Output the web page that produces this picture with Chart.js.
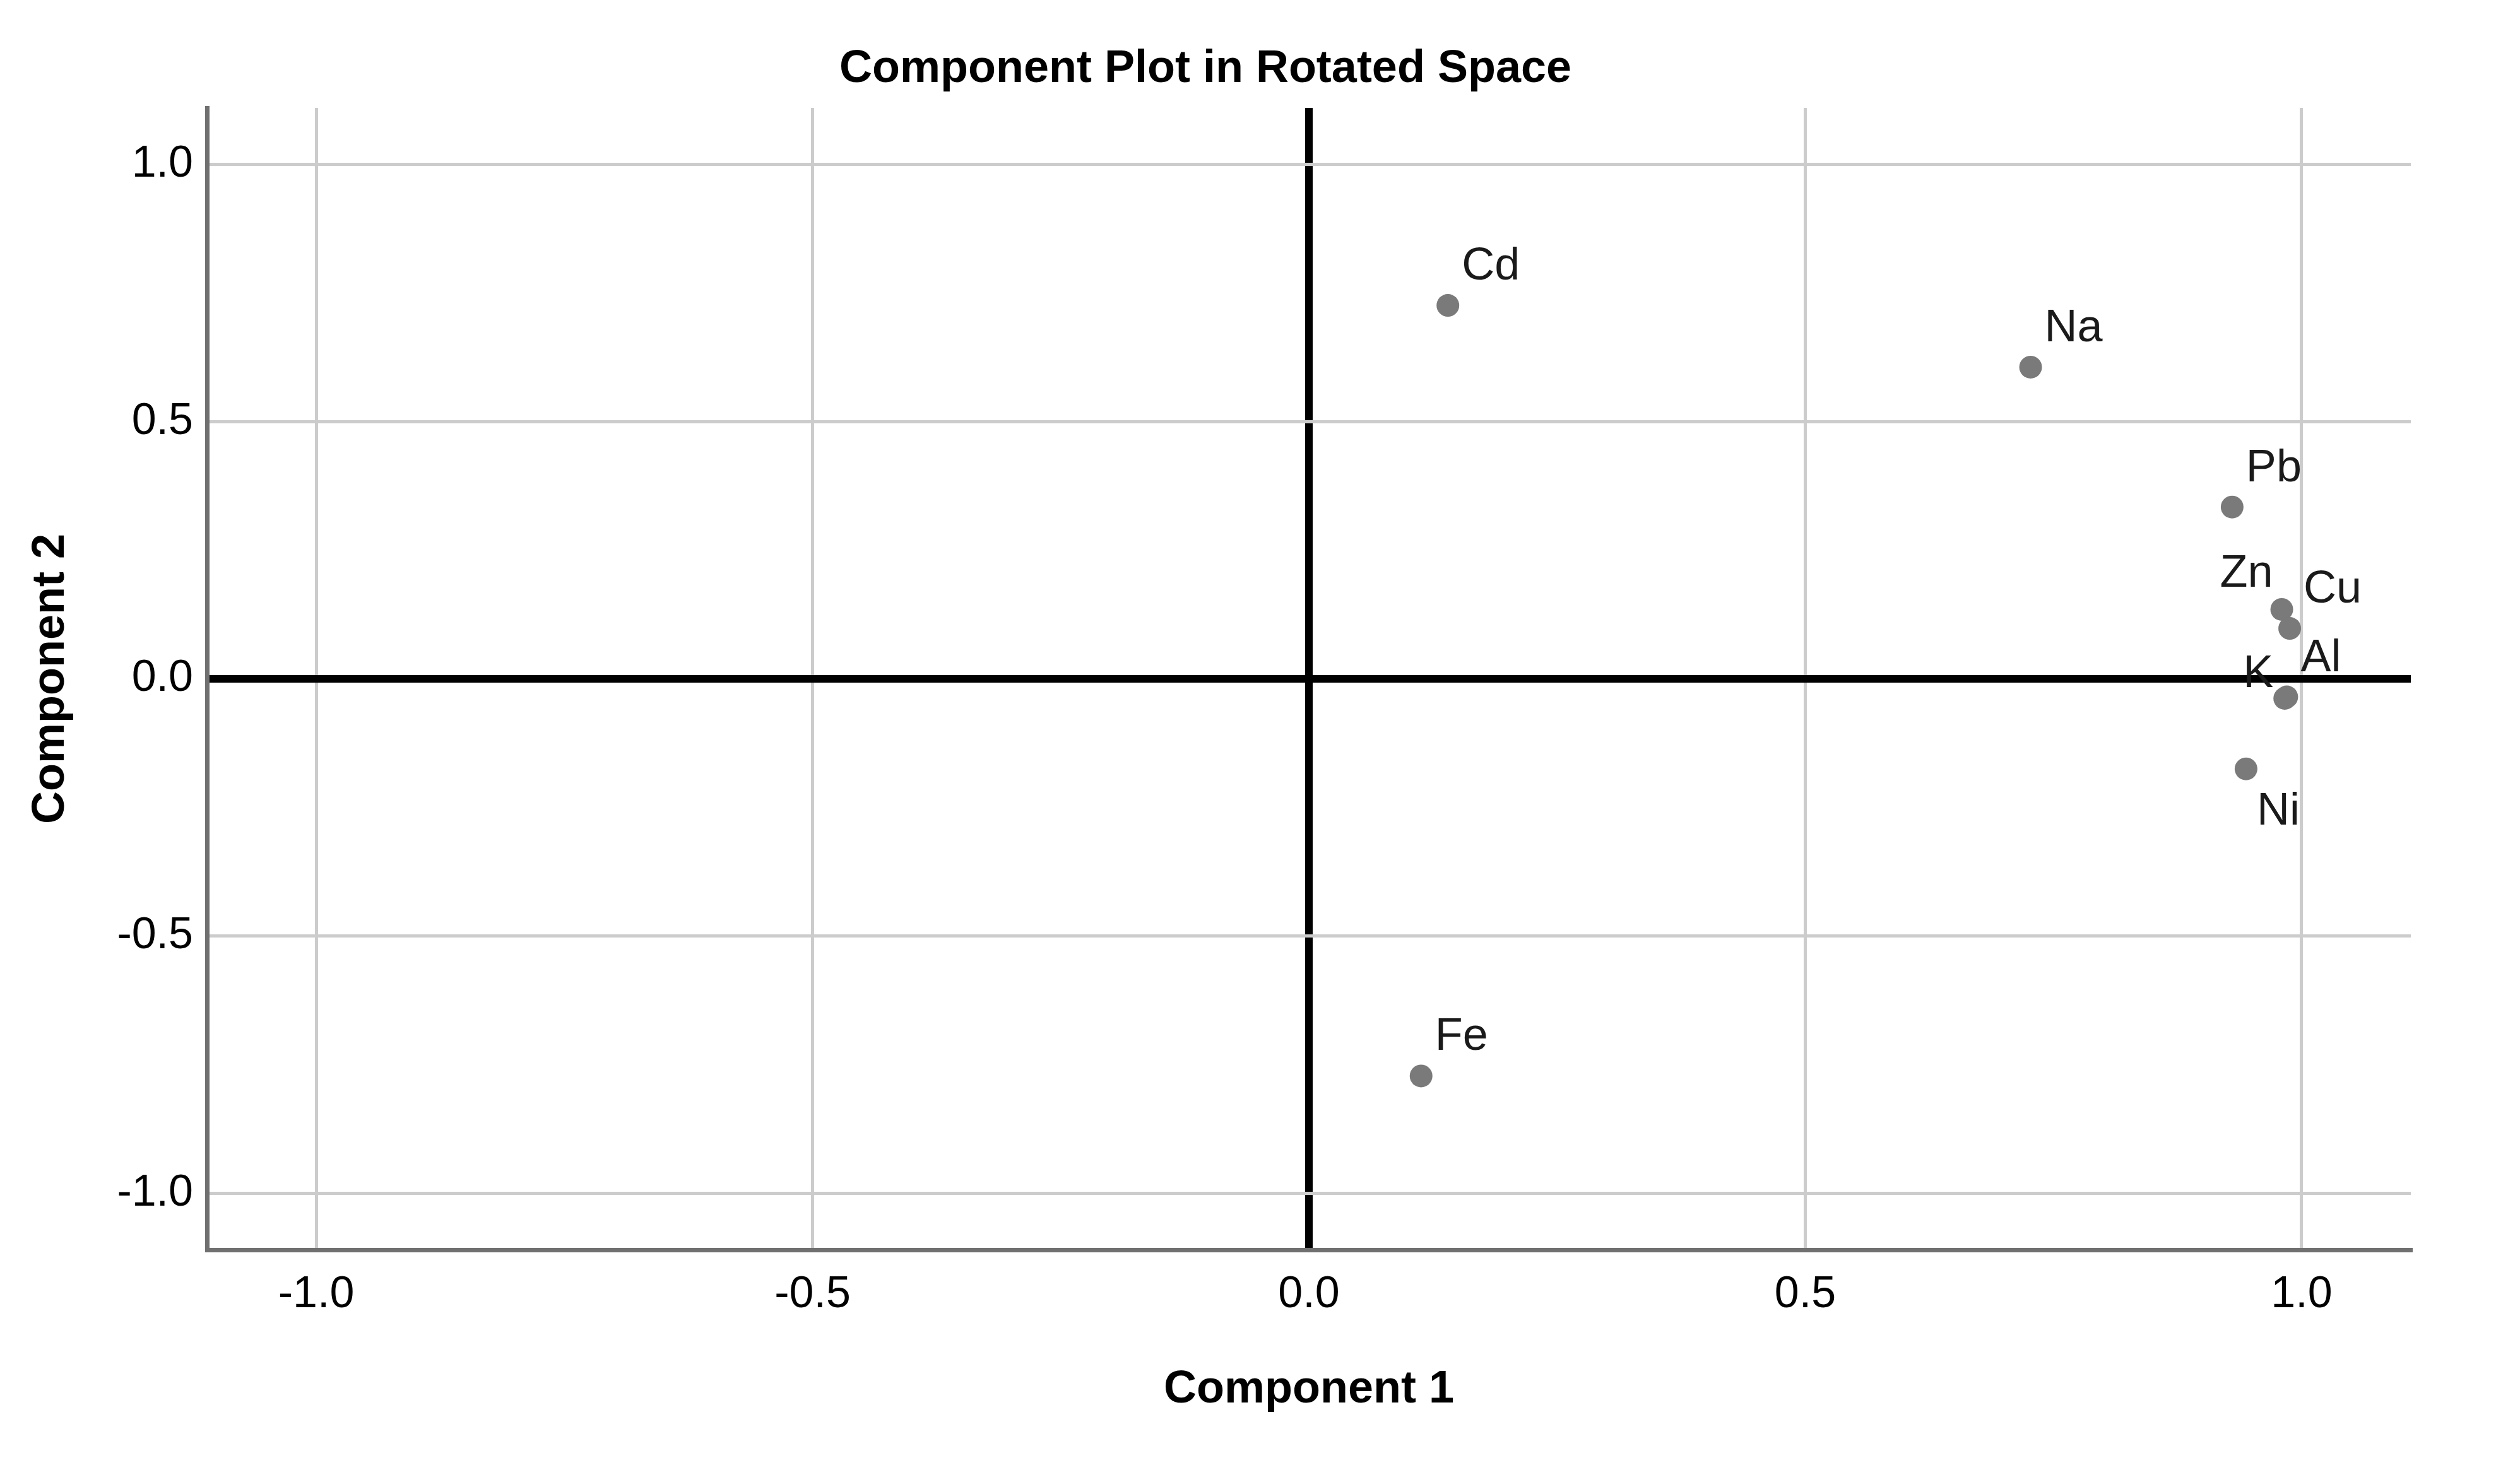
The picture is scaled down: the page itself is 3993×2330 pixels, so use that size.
<!DOCTYPE html>
<html>
<head>
<meta charset="utf-8">
<script src="https://cdn.jsdelivr.net/npm/chart.js@4/dist/chart.umd.min.js"></script>
<style>
  html, body { margin: 0; padding: 0; background: #ffffff; }
  #wrap { width: 3993px; height: 2330px; }
</style>
</head>
<body>
<div id="wrap"><canvas id="c" width="3993" height="2330"></canvas></div>
<script>
// ---- Data ----
const elements   = ['Cd', 'Na', 'Pb', 'Zn', 'Cu', 'Al', 'K', 'Ni', 'Fe'];
const component1 = [0.140, 0.727, 0.930, 0.980, 0.988, 0.985, 0.983, 0.944, 0.113];
const component2 = [0.726, 0.606, 0.334, 0.135, 0.098, -0.035, -0.038, -0.175, -0.772];
const tickValues = [-1.0, -0.5, 0.0, 0.5, 1.0];

const titleText  = 'Component Plot in Rotated Space';
const xTitleText = 'Component 1';
const yTitleText = 'Component 2';

// label placement relative to the point (styling, not data)
const labelSide = { Zn: 'ul', K: 'l', Ni: 'br' };

const points = elements.map((n, i) => ({ x: component1[i], y: component2[i], name: n }));

const FONT = "'Liberation Sans', Arial, sans-serif";

const pointLabels = {
  id: 'pointLabels',
  afterDatasetsDraw(chart) {
    const ctx = chart.ctx;
    const meta = chart.getDatasetMeta(0);
    ctx.save();
    ctx.font = '72px ' + FONT;
    ctx.fillStyle = '#1a1a1a';
    ctx.textBaseline = 'alphabetic';
    meta.data.forEach((el, i) => {
      const name = elements[i];
      const side = labelSide[name] || 'ur';
      let x = el.x, y = el.y;
      if (side === 'ur') { ctx.textAlign = 'left'; x += 22; y -= 41; }
      else if (side === 'ul') { ctx.textAlign = 'right'; x -= 14; y -= 36; }
      else if (side === 'l') { ctx.textAlign = 'right'; x -= 18; y -= 18; }
      else if (side === 'br') { ctx.textAlign = 'left'; x += 17; y += 88; }
      ctx.fillText(name, x, y);
    });
    ctx.restore();
  }
};

const gridColor = (c) => (c.tick && c.tick.value === 0) ? '#000000' : '#cccccc';
const gridWidth = (c) => (c.tick && c.tick.value === 0) ? 12 : 5;

new Chart(document.getElementById('c'), {
  type: 'scatter',
  data: {
    datasets: [{
      data: points,
      backgroundColor: '#7a7a7a',
      borderWidth: 0,
      pointRadius: 18,
      pointHoverRadius: 18
    }]
  },
  options: {
    responsive: false,
    devicePixelRatio: 1,
    animation: false,
    events: [],
    layout: { padding: { left: 0, right: 173, top: 0, bottom: 0 } },
    plugins: {
      legend: { display: false },
      tooltip: { enabled: false },
      title: {
        display: true,
        text: titleText,
        color: '#000000',
        font: { family: FONT, size: 72, weight: 'bold', lineHeight: 1.2 },
        padding: { top: 67, bottom: 17.6 }
      }
    },
    scales: {
      x: {
        type: 'linear',
        min: -1.11,
        max: 1.11,
        afterFit(scale) { scale.height = 349; },
        afterBuildTicks(scale) { scale.ticks = tickValues.map(v => ({ value: v })); },
        ticks: {
          stepSize: 0.5,
          includeBounds: false,
          padding: 30,
          color: '#000000',
          font: { family: FONT, size: 70 },
          callback: (v) => Number(v).toFixed(1)
        },
        grid: { color: gridColor, lineWidth: gridWidth, drawTicks: false },
        border: { display: true, color: '#707070', width: 7 },
        title: {
          display: true,
          text: xTitleText,
          color: '#000000',
          font: { family: FONT, size: 72, weight: 'bold', lineHeight: 1.2 },
          padding: { top: 0, bottom: 84 }
        }
      },
      y: {
        type: 'linear',
        min: -1.11,
        max: 1.11,
        afterFit(scale) { scale.width = 328; },
        afterBuildTicks(scale) { scale.ticks = tickValues.map(v => ({ value: v })); },
        ticks: {
          stepSize: 0.5,
          includeBounds: false,
          padding: 22,
          color: '#000000',
          font: { family: FONT, size: 70 },
          callback: (v) => Number(v).toFixed(1)
        },
        grid: { color: gridColor, lineWidth: gridWidth, drawTicks: false },
        border: { display: true, color: '#707070', width: 7 },
        title: {
          display: true,
          text: yTitleText,
          color: '#000000',
          font: { family: FONT, size: 72, weight: 'bold', lineHeight: 1.2 },
          padding: { top: 38, bottom: 0 }
        }
      }
    }
  },
  plugins: [pointLabels]
});
</script>
</body>
</html>
